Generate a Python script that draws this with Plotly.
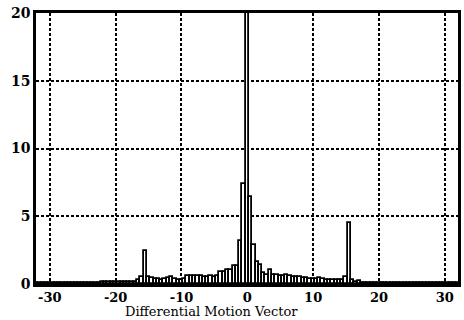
import plotly.graph_objects as go

# Half-pel bins of the differential motion vector, -32 .. 32 step 0.5
vectors = [v / 2 for v in range(-64, 65)]
counts = [
    # -32 .. -17
    0.08, 0.08, 0.08, 0.08, 0.08, 0.08, 0.08, 0.08, 0.10, 0.10,
    0.10, 0.10, 0.10, 0.10, 0.10, 0.10, 0.10, 0.10, 0.10, 0.10,
    0.12, 0.12, 0.12, 0.12, 0.12, 0.12, 0.12, 0.12, 0.12, 0.12, 0.12,
    # -16.5 .. -10
    0.30, 0.50, 2.40, 0.55, 0.45, 0.35, 0.35, 0.30, 0.35, 0.45, 0.50, 0.40, 0.30, 0.30,
    # -9.5 .. -4
    0.35, 0.60, 0.60, 0.60, 0.60, 0.60, 0.55, 0.55, 0.60, 0.55, 0.60, 0.90,
    # -3.5 .. 0
    0.90, 1.00, 1.00, 1.35, 1.30, 3.20, 7.40, 25.0,
    # 0.5 .. 5
    6.40, 2.90, 1.60, 1.40, 0.80, 0.70, 1.00, 0.65, 0.65, 0.60,
    # 5.5 .. 10
    0.60, 0.65, 0.60, 0.55, 0.50, 0.50, 0.45, 0.45, 0.35, 0.35,
    # 10.5 .. 15
    0.40, 0.45, 0.40, 0.30, 0.30, 0.30, 0.30, 0.30, 0.30, 0.50,
    # 15.5 .. 20
    4.50, 0.30, 0.15, 0.25, 0.10, 0.10, 0.10, 0.10, 0.10, 0.10,
    # 20.5 .. 32
    0.08, 0.08, 0.08, 0.08, 0.08, 0.08, 0.08, 0.08, 0.08, 0.08,
    0.08, 0.08, 0.08, 0.08, 0.08, 0.08, 0.08, 0.08, 0.08, 0.08,
    0.08, 0.08, 0.08, 0.08,
]
assert len(counts) == len(vectors), (len(counts), len(vectors))

x_ticks = [-30, -20, -10, 0, 10, 20, 30]
y_ticks = [0, 5, 10, 15, 20]
x_title = "Differential Motion Vector"

fig = go.Figure(go.Bar(
    x=vectors, y=counts, width=0.5,
    marker=dict(color="white", line=dict(color="black", width=1.8)),
))

tickfont = dict(family="DejaVu Serif", size=13, color="black", weight="bold")
fig.update_xaxes(
    range=[-32.1, 32.0], tickvals=x_ticks,
    ticktext=[f"<b>{t}</b>" for t in x_ticks],
    showline=True, linecolor="black", linewidth=2.5, mirror=True,
    showgrid=True, gridcolor="black", gridwidth=1.5, griddash="3px,2px",
    zeroline=False, tickfont=tickfont, ticks="", ticklabelstandoff=0,
)
fig.update_yaxes(
    range=[0, 20], tickvals=y_ticks,
    ticktext=[f"<b>{t}</b>" for t in y_ticks],
    showline=True, linecolor="black", linewidth=2.5, mirror=True,
    showgrid=True, gridcolor="black", gridwidth=1.5, griddash="3px,2px",
    zeroline=False, tickfont=dict(tickfont, size=14), ticks="",
)
fig.add_annotation(
    text=x_title, xref="paper", yref="paper", x=0.415, y=0, yshift=-36,
    xanchor="center", yanchor="bottom", showarrow=False, borderpad=0,
    font=dict(family="DejaVu Serif", size=13, color="black"),
)
fig.update_layout(
    width=464, height=320, margin=dict(l=36, r=3, t=13, b=36),
    plot_bgcolor="white", paper_bgcolor="white", showlegend=False,
    bargap=0,
)
fig.write_html("out.html")
